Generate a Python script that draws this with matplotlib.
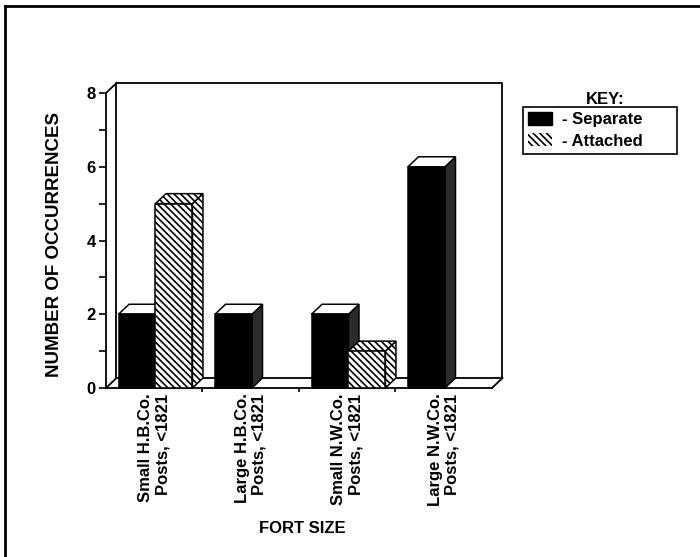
import matplotlib.pyplot as plt
from matplotlib.patches import Rectangle, Polygon, Patch
from matplotlib.lines import Line2D

# data
categories = ["Small H.B.Co.\nPosts, <1821", "Large H.B.Co.\nPosts, <1821",
              "Small N.W.Co.\nPosts, <1821", "Large N.W.Co.\nPosts, <1821"]
separate = [2, 2, 2, 6]
attached = [5, 0, 1, 0]
series_labels = ["- Separate", "- Attached"]

plt.rcParams['font.family'] = ['Liberation Sans', 'DejaVu Sans']
plt.rcParams['font.weight'] = 'bold'
plt.rcParams['hatch.linewidth'] = 1.2

HATCH = '\\\\\\\\\\'
DX, DY = 0.109, 0.271     # fake 3d depth, in data units
BAR_OFF, BAR_W = 0.13, 0.383
LW = 1.3

fig = plt.figure(figsize=(7, 5.57), dpi=100)
ax = fig.add_axes([0.1514, 0.3034, 0.5514, 0.5296])
ax.set_xlim(0, len(categories))
ax.set_ylim(0, 8)
ax.patch.set_alpha(0)
for s in ['top', 'right']:
    ax.spines[s].set_visible(False)
for s in ['left', 'bottom']:
    ax.spines[s].set_linewidth(LW)

# back wall, floor and left wall edges
n = len(categories)
wall = dict(color='black', lw=LW, clip_on=False, zorder=1)
ax.plot([DX, n + DX, n + DX, DX, DX], [DY, DY, 8 + DY, 8 + DY, DY], **wall)
ax.plot([0, DX], [8, 8 + DY], **wall)
ax.plot([0, DX], [0, DY], **wall)
ax.plot([n, n + DX], [0, DY], **wall)


def bar3d(x0, h, front, side, top, hatch=None):
    if h <= 0:
        return
    kw = dict(edgecolor='black', lw=1.1, clip_on=False, zorder=3, hatch=hatch)
    ax.add_patch(Polygon([(x0 + BAR_W, 0), (x0 + BAR_W + DX, DY),
                          (x0 + BAR_W + DX, h + DY), (x0 + BAR_W, h)],
                         facecolor=side, **kw))
    ax.add_patch(Polygon([(x0, h), (x0 + BAR_W, h), (x0 + BAR_W + DX, h + DY),
                          (x0 + DX, h + DY)], facecolor=top, **kw))
    ax.add_patch(Rectangle((x0, 0), BAR_W, h, facecolor=front, **kw))


for i in range(n):
    bar3d(i + BAR_OFF, separate[i], 'black', '#2b2b2b', 'white')
    bar3d(i + BAR_OFF + BAR_W, attached[i], 'white', 'white', 'white', HATCH)

ax.set_yticks([0, 2, 4, 6, 8])
ax.set_yticks([1, 3, 5, 7], minor=True)
ax.tick_params(axis='y', which='both', direction='out', length=5, width=1.2,
               pad=2.5, labelsize=12)
ax.set_xticks([i + 0.5 for i in range(n)], labels=categories, rotation=90,
              multialignment='right')
ax.set_xticks(range(1, n), minor=True)
ax.tick_params(axis='x', which='major', length=0, pad=4, labelsize=12)
ax.tick_params(axis='x', which='minor', length=3, width=1.2, direction='out')

ax.set_ylabel("NUMBER OF OCCURRENCES", fontsize=13.5, fontweight='bold')
ax.yaxis.set_label_coords(-0.112, 0.485)
ax.set_xlabel("FORT SIZE", fontsize=12, fontweight='bold')
ax.xaxis.set_label_coords(0.508, -0.452)

handles = [Patch(facecolor='black', edgecolor='black'),
           Patch(facecolor='white', edgecolor='black', lw=0, hatch=HATCH)]
leg = fig.legend(handles, series_labels, loc='upper left',
                 bbox_to_anchor=(0.747, 0.70, 0.22, 0.108), mode='expand',
                 borderaxespad=0, fancybox=False, edgecolor='black',
                 framealpha=1, fontsize=12, handlelength=1.45,
                 handleheight=0.8, handletextpad=0.55, labelspacing=0.36,
                 borderpad=0.32)
leg.get_frame().set_linewidth(1.2)
fig.text(0.864, 0.822, "KEY:", ha='center', va='center', fontsize=12,
         fontweight='bold')

# scan border (top and left edges)
fig.add_artist(Line2D([0.007, 1], [0.989, 0.989], transform=fig.transFigure,
                      color='black', lw=2))
fig.add_artist(Line2D([0.007, 0.007], [0, 0.989], transform=fig.transFigure,
                      color='black', lw=2))

fig.savefig("out.png", dpi=100, facecolor='white')
